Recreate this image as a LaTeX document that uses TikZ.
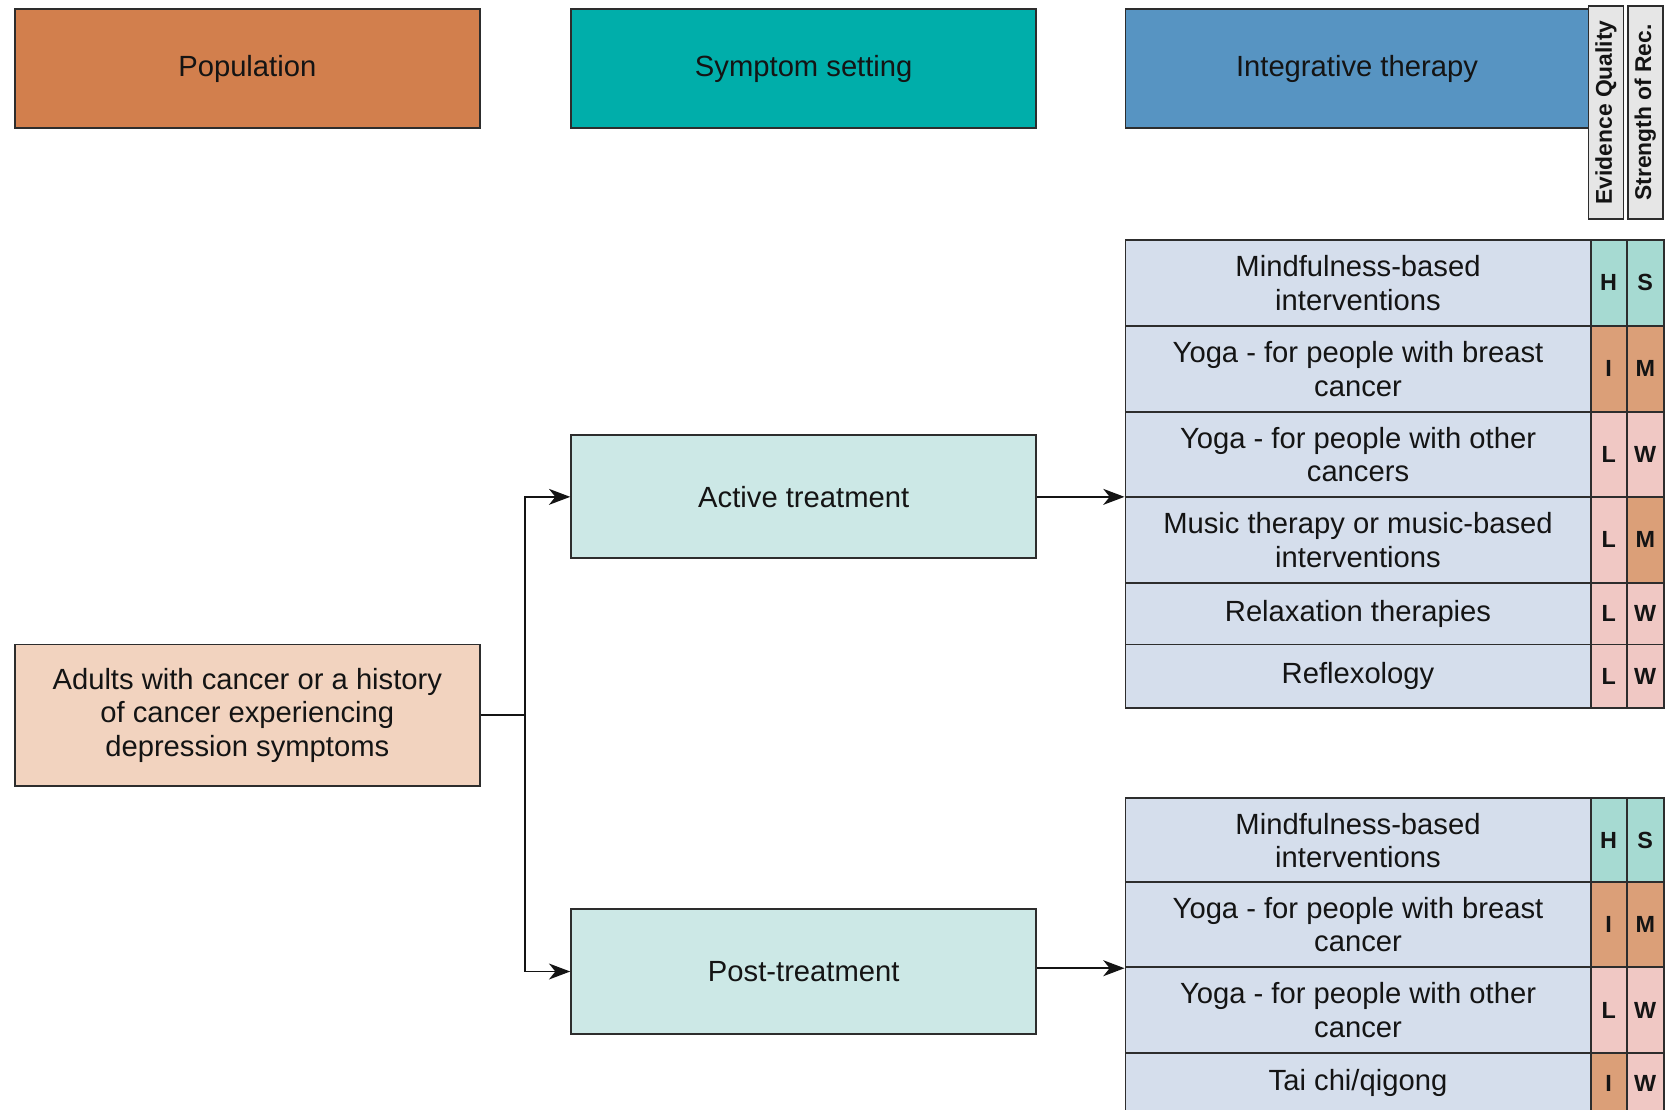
\documentclass[tikz,border=0pt]{standalone}
\usepackage{fontspec}
\setmainfont{Liberation Sans}
\usetikzlibrary{arrows.meta}

\definecolor{linecol}{RGB}{45,45,45}
\definecolor{txt}{RGB}{20,20,20}
\definecolor{popHead}{RGB}{210,127,77}
\definecolor{symHead}{RGB}{0,174,170}
\definecolor{intHead}{RGB}{87,148,194}
\definecolor{colHead}{RGB}{230,230,230}
\definecolor{popFill}{RGB}{242,211,191}
\definecolor{setFill}{RGB}{204,232,230}
\definecolor{cellFill}{RGB}{213,222,236}
\definecolor{rHigh}{RGB}{166,218,210}
\definecolor{rMid}{RGB}{219,159,120}
\definecolor{rLow}{RGB}{240,200,196}

% one table row: name, top, height, text, quality fill, quality, strength fill, strength
\newcommand{\tablerow}[8]{%
  \node[cellbox, minimum height=#3, anchor=north west] (#1) at (1059,#2) {#4};
  \node[ratebox, fill=#5, minimum width=34pt, minimum height=#3, anchor=north west] (#1q) at (1497,#2) {#6};
  \node[ratebox, fill=#7, minimum width=35pt, minimum height=#3, anchor=north west] (#1s) at (1531,#2) {#8};
}

\begin{document}
\begin{tikzpicture}[x=1pt,y=-1pt,
  box/.style={rectangle, draw=linecol, line width=1.8pt, inner sep=0pt,
    align=center, text=txt, font=\fontsize{27.5}{31.5}\selectfont},
  headbox/.style={box, minimum width=438pt, minimum height=112pt, anchor=north west},
  setbox/.style={box, fill=setFill, minimum width=438pt, anchor=north west},
  cellbox/.style={box, fill=cellFill, minimum width=438pt},
  ratebox/.style={box, font=\fontsize{22}{24}\selectfont\bfseries},
  colbox/.style={box, fill=colHead, minimum width=33pt, minimum height=200pt,
    anchor=north west, font=\fontsize{21.5}{24}\selectfont\bfseries},
  conn/.style={draw=txt, line width=1.8pt},
  arr/.style={conn, -{Stealth[length=20pt, width=15pt, inset=6pt]}}
]
\useasboundingbox (0,0) rectangle (1568,1045);
\clip (0,0) rectangle (1568,1045);

% column headings
\node[headbox, fill=popHead] (pop) at (13,8) {Population};
\node[headbox, fill=symHead] (sym) at (537,8) {Symptom setting};
\node[headbox, fill=intHead, minimum width=436pt] (integ) at (1059,8) {Integrative therapy};
\node[colbox] (eq) at (1495,5) {};
\node[rotate=90, font=\fontsize{21.5}{24}\selectfont\bfseries, text=txt] (eqlab) at (eq.center) {Evidence Quality};
\node[colbox] (sr) at (1532,5) {};
\node[rotate=90, font=\fontsize{21.5}{24}\selectfont\bfseries, text=txt] (srlab) at (sr.center) {Strength of Rec.};

% population and settings
\node[box, fill=popFill, minimum width=438pt, minimum height=133pt, anchor=north west]
  (adults) at (13,606) {Adults with cancer or a history\\of cancer experiencing\\depression symptoms};
\node[setbox, minimum height=116pt] (active) at (537,409) {Active treatment};
\node[setbox, minimum height=118pt] (post) at (537,855) {Post-treatment};

% therapies during active treatment
\tablerow{a1}{225}{81pt}{Mindfulness-based\\interventions}{rHigh}{H}{rHigh}{S}
\tablerow{a2}{306}{81pt}{Yoga - for people with breast\\cancer}{rMid}{I}{rMid}{M}
\tablerow{a3}{387}{80pt}{Yoga - for people with other\\cancers}{rLow}{L}{rLow}{W}
\tablerow{a4}{467}{81pt}{Music therapy or music-based\\interventions}{rLow}{L}{rMid}{M}
\tablerow{a5}{548}{58pt}{Relaxation therapies}{rLow}{L}{rLow}{W}
\tablerow{a6}{606}{60pt}{Reflexology}{rLow}{L}{rLow}{W}

% therapies after treatment (the last row runs past the lower edge)
\tablerow{b1}{751}{79pt}{Mindfulness-based\\interventions}{rHigh}{H}{rHigh}{S}
\tablerow{b2}{830}{80pt}{Yoga - for people with breast\\cancer}{rMid}{I}{rMid}{M}
\tablerow{b3}{910}{81pt}{Yoga - for people with other\\cancer}{rLow}{L}{rLow}{W}
\tablerow{b4}{991}{56pt}{Tai chi/qigong}{rMid}{I}{rLow}{W}

% connectors
\path (adults.east) ++(42,0) coordinate (split);
\draw[conn] (adults.east) -- (split);
\draw[arr] (split) |- (active.west);
\draw[arr] (split) |- (post.west);
\draw[arr] (active.east) -- (active.east -| a3.south west);
\draw[arr] (post.east |- b2.south west) -- (b2.south west);
\end{tikzpicture}
\end{document}
